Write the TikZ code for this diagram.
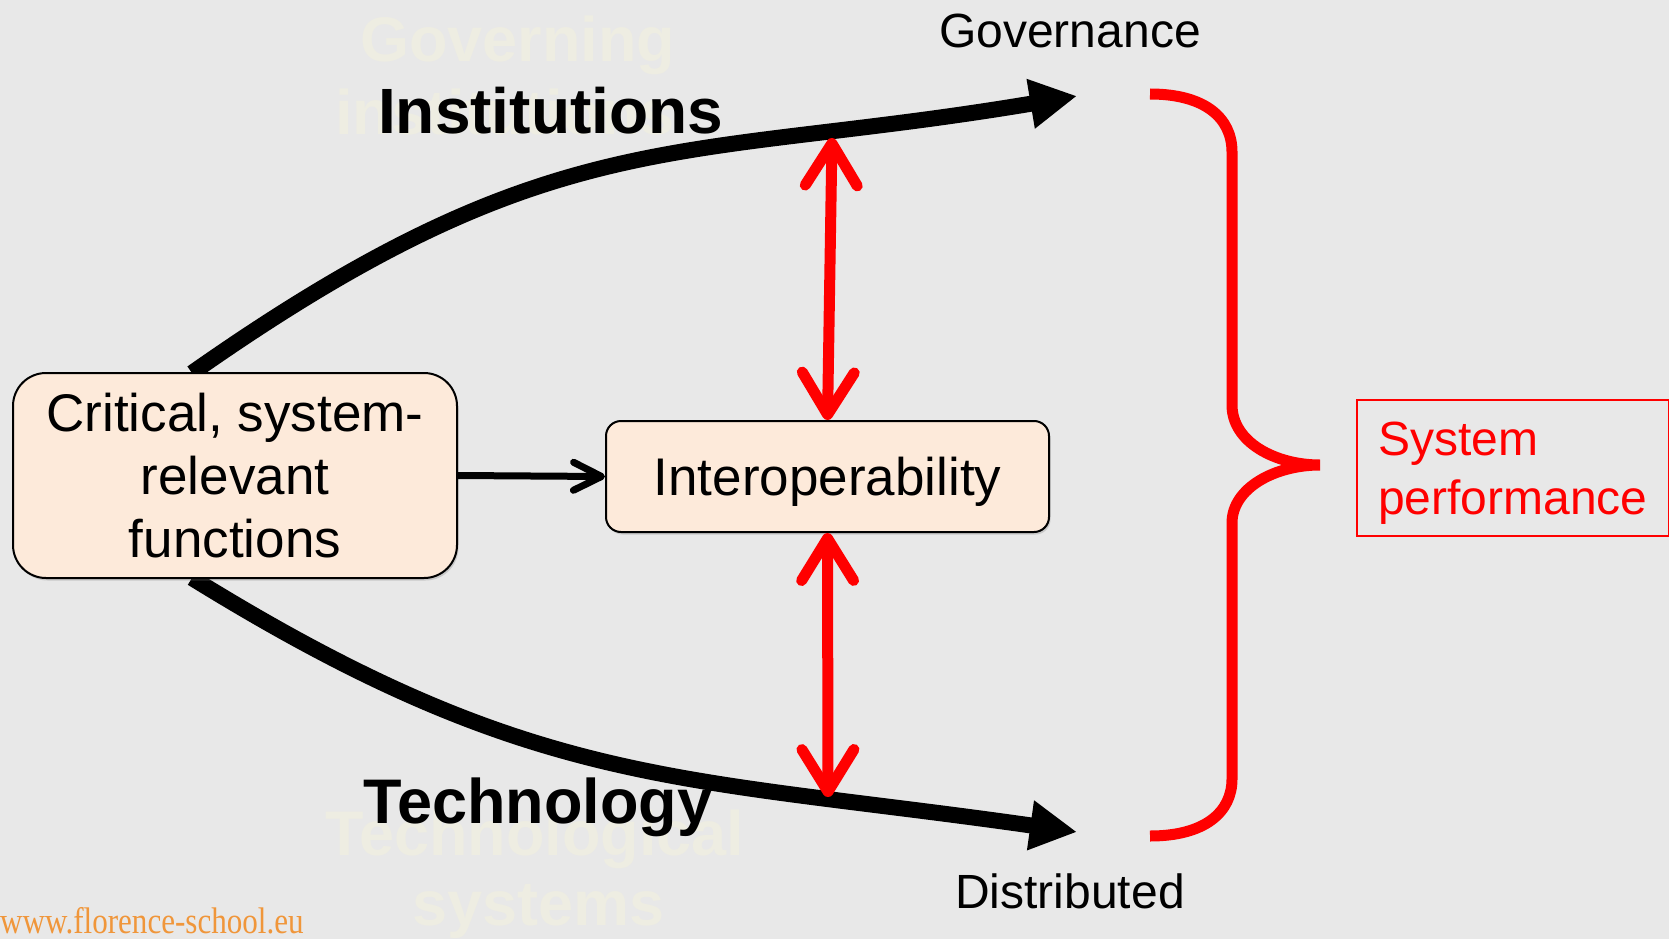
\documentclass[tikz,border=0pt]{standalone}
\usepackage{fontspec}
\setmainfont{Liberation Sans}
\newfontfamily\webfont{Liberation Serif}
\usetikzlibrary{arrows.meta,shadows}
\definecolor{bg}{HTML}{E8E8E8}
\definecolor{peach}{HTML}{FDEADA}
\definecolor{faded}{HTML}{EEEDE2}
\definecolor{weborange}{HTML}{F0963A}
\definecolor{pred}{HTML}{FF0000}
\newcommand{\lowerby}[1]{\raisebox{-5pt}[\height][\depth]{#1}}
\begin{document}
\begin{tikzpicture}[x=1pt,y=-1pt,
  fnbox/.style={draw=black, line width=2pt, fill=peach, align=center, inner sep=0pt,
    drop shadow={shadow xshift=1.5pt, shadow yshift=-2.5pt, opacity=0.3}},
  bigarrow/.style={line width=16pt, -{Triangle[length=47pt,width=47pt]}},
  redarrow/.style={draw=pred, line width=11pt,
    {Straight Barb[length=42pt,width=52pt,round]}-{Straight Barb[length=42pt,width=52pt,round]}},
  smallarrow/.style={line width=7pt, -{Straight Barb[length=28pt,width=28pt,round]}},
  fadedtext/.style={text=faded, font=\bfseries\fontsize{63}{63}\selectfont, anchor=base west, inner sep=0pt},
  boldlabel/.style={font=\bfseries\fontsize{64}{64}\selectfont, anchor=base west, inner sep=0pt},
  endlabel/.style={font=\fontsize{48}{48}\selectfont, anchor=base, inner sep=0pt}]
\fill[bg] (0,0) rectangle (1669,939);
\useasboundingbox (0,0) rectangle (1669,939);

% faded background texts
\node[fadedtext] (fg1) at (360,62) {Governing};
\node[fadedtext] (fg2) at (335,135) {institutions};
\node[fadedtext] (ft1) at (325,855) {Technological};
\node[fadedtext] (ft2) at (412,925) {systems};

% coordinates
\coordinate (gstart) at (192,373);
\coordinate (govend) at (1077,96);
\coordinate (dstart) at (192,578);
\coordinate (distend) at (1077,832);
\coordinate (upmeet) at (832,138);
\coordinate (lowmeet) at (828,797);

% main curves
\draw[bigarrow] (gstart) .. controls (555,118) and (677,163) .. (govend);
\draw[bigarrow] (dstart) .. controls (535,790) and (677,775) .. (distend);

% labels
\node[boldlabel] (inst) at (378,133) {Institutions};
\node[boldlabel, font=\bfseries\fontsize{63}{63}\selectfont] (tech) at (363,823) {Technology};
\node[endlabel] (gov) at (1070,48) {Governance};
\node[endlabel] (dist) at (1070,908) {Distributed};

% boxes
\node[fnbox, rounded corners=33pt, minimum width=444pt, minimum height=205pt,
      font=\fontsize{53}{63}\selectfont] (crit) at (235,475.5)
  {Critical, system-\\relevant\\functions};
\node[fnbox, rounded corners=15pt, minimum width=443pt, minimum height=111pt,
      text depth=0pt, font=\fontsize{53}{63}\selectfont] (inter) at (827.5,476.5) {Interoperability};

% arrows
\draw[smallarrow] (crit.east) -- (inter.west);
\draw[redarrow] (upmeet) -- (inter.north);
\draw[redarrow] (inter.south) -- (lowmeet);

% brace
\draw[pred, line width=11pt]
  (1150,94) .. controls (1205,94) and (1232,118) .. (1232,152)
  -- (1232,405) .. controls (1232,442) and (1275,465) .. (1320,465)
  .. controls (1275,465) and (1232,488) .. (1232,523)
  -- (1232,779) .. controls (1232,812) and (1205,836) .. (1150,836);

% system performance
\node[draw=pred, line width=2pt, text=pred, anchor=north west, minimum width=312pt,
      minimum height=136pt, text width=270pt, inner xsep=20pt, inner ysep=0pt, align=left,
      font=\fontsize{48}{59}\selectfont] (perf) at (1356,399)
  {\lowerby{System}\\\lowerby{performance}};

% website
\node[anchor=base west, inner sep=0pt, text=weborange] (web) at (0,933)
  {\scalebox{0.84}[1]{\webfont\fontsize{37}{37}\selectfont www.florence-school.eu}};
\end{tikzpicture}
\end{document}
